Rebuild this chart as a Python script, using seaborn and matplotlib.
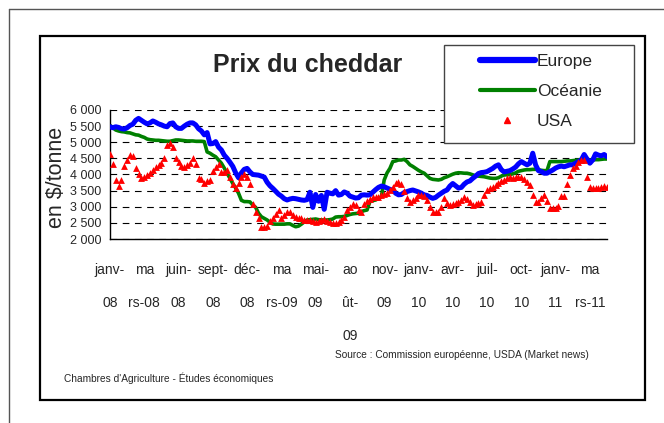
import numpy as np
import pandas as pd
import seaborn as sns
import matplotlib
matplotlib.use("Agg")
import matplotlib.pyplot as plt
from matplotlib.ticker import FuncFormatter
from matplotlib.patches import Rectangle
from matplotlib.lines import Line2D

# weekly prices, $/tonne (janv-08 -> avr-11)
europe = [5480, 5450, 5480, 5460, 5420, 5410, 5450, 5520, 5560, 5680,
          5740, 5680, 5620, 5570, 5600, 5660, 5620, 5570, 5540, 5500,
          5480, 5580, 5600, 5480, 5430, 5430, 5500, 5560, 5600, 5600,
          5540, 5420, 5350, 5230, 5300, 4950, 4960, 5020, 4850, 4760,
          4600, 4500, 4380, 4250, 4050, 3900, 4050, 4160, 4190, 4080,
          4000, 3990, 3980, 3950, 3920, 3760, 3650, 3570, 3480, 3390,
          3330, 3250, 3210, 3240, 3260, 3250, 3230, 3210, 3200, 3220,
          3450, 2980, 3380, 3170, 3350, 2920, 3450, 3420, 3400, 3500,
          3360, 3380, 3460, 3420, 3330, 3300, 3270, 3280, 3360, 3370,
          3360, 3370, 3450, 3530, 3600, 3640, 3620, 3580, 3540, 3510,
          3420, 3370, 3380, 3440, 3470, 3500, 3520, 3490, 3460, 3420,
          3370, 3350, 3300, 3260, 3290, 3360, 3420, 3480, 3520, 3640,
          3720, 3650, 3580, 3600, 3700, 3770, 3800, 3880, 3950, 4030,
          4060, 4070, 4090, 4140, 4190, 4260, 4300, 4150, 4080, 4100,
          4120, 4170, 4230, 4330, 4400, 4350, 4300, 4350, 4660, 4300,
          4120, 4090, 4040, 4040, 4090, 4140, 4200, 4240, 4260, 4240,
          4270, 4300, 4300, 4350, 4400, 4450, 4620, 4480, 4350, 4450,
          4640, 4600, 4580, 4620, 4550]

oceanie = [5520, 5450, 5380, 5350, 5330, 5320, 5300, 5290, 5260, 5230,
           5220, 5180, 5150, 5100, 5080, 5070, 5060, 5060, 5050, 5040,
           5030, 5030, 5050, 5070, 5070, 5060, 5050, 5040, 5040, 5040,
           5030, 5030, 5030, 5020, 4700, 4660, 4600, 4550, 4450, 4350,
           4200, 4040, 3880, 3720, 3580, 3420, 3200, 3160, 3160, 3150,
           3050, 2980, 2800, 2690, 2640, 2590, 2520, 2465, 2460, 2460,
           2460, 2460, 2470, 2470, 2420, 2380, 2400, 2460, 2530, 2590,
           2600, 2610, 2620, 2600, 2590, 2590, 2590, 2600, 2620, 2680,
           2690, 2690, 2700, 2730, 2760, 2780, 2790, 2800, 2850, 2880,
           2900, 3160, 3190, 3210, 3260, 3310, 3830, 4050, 4190, 4400,
           4420, 4450, 4450, 4470, 4400, 4300, 4250, 4190, 4130, 4080,
           4040, 3960, 3880, 3850, 3840, 3830, 3850, 3900, 3930, 3970,
           4010, 4040, 4055, 4050, 4040, 4040, 4020, 3990, 3960, 3950,
           3940, 3930, 3910, 3890, 3880, 3880, 3900, 3950, 3985, 3990,
           4000, 4020, 4050, 4100, 4120, 4140, 4150, 4150, 4160, 4160,
           4150, 4130, 4120, 4120, 4400, 4400, 4400, 4400, 4400, 4410,
           4420, 4420, 4430, 4440, 4450, 4450, 4450, 4450, 4450, 4450,
           4460, 4460, 4470, 4480, 4480]

usa = [4640, 4320, 3830, 3640, 3830, 4260, 4450, 4600, 4580, 4190,
       4020, 3880, 3930, 3980, 4050, 4140, 4240, 4300, 4350, 4500,
       4900, 4970, 4850, 4520, 4400, 4260, 4240, 4300, 4370, 4520,
       4320, 3880, 3870, 3750, 3800, 3830, 4120, 4220, 4320, 4090,
       4090, 4140, 3930, 3720, 3570, 3750, 3930, 4000, 3930, 3700,
       3100, 2850, 2640, 2380, 2380, 2400, 2570, 2640, 2770, 2900,
       2660, 2750, 2850, 2850, 2750, 2670, 2660, 2640, 2590, 2600,
       2590, 2560, 2540, 2560, 2590, 2610, 2570, 2540, 2490, 2500,
       2520, 2600, 2690, 2900, 3000, 3100, 3050, 2900, 2850, 3100,
       3180, 3230, 3310, 3300, 3290, 3360, 3400, 3440, 3520, 3620,
       3740, 3760, 3700, 3500, 3260, 3160, 3200, 3260, 3360, 3370,
       3330, 3200, 3000, 2850, 2840, 2850, 3000, 3260, 3110, 3050,
       3080, 3110, 3160, 3210, 3300, 3250, 3160, 3060, 3080, 3110,
       3160, 3360, 3520, 3570, 3620, 3670, 3740, 3800, 3840, 3890,
       3930, 3880, 3920, 3910, 3920, 3850, 3770, 3680, 3370, 3160,
       3160, 3260, 3360, 3170, 2950, 2950, 2950, 3010, 3330, 3330,
       3720, 3980, 4190, 4260, 4400, 4450, 4450, 3910, 3620, 3570,
       3570, 3570, 3600, 3640, 3620]

tick_labels = ["janv-\n08", "ma\nrs-08", "juin-\n08", "sept-\n08", "déc-\n08",
               "ma\nrs-09", "mai-\n09", "ao\nût-\n09", "nov-\n09", "janv-\n10",
               "avr-\n10", "juil-\n10", "oct-\n10", "janv-\n11", "ma\nrs-11"]

df = pd.DataFrame({"semaine": np.arange(len(europe)),
                   "Europe": europe, "Océanie": oceanie, "USA": usa})

sns.set_theme(style="white")
plt.rcParams["font.family"] = ["Liberation Sans", "DejaVu Sans"]

W, H = 664, 423
fig = plt.figure(figsize=(W / 100, H / 100), dpi=100)


def fx(px):
    return px / W


def fy(py):
    return 1 - py / H


# frames
fig.add_artist(Line2D([fx(9), fx(9)], [fy(9), 0], color="#555555", lw=1))
fig.add_artist(Line2D([fx(9), 1], [fy(9), fy(9)], color="#555555", lw=1))
fig.add_artist(Rectangle((fx(40), fy(400)), fx(645) - fx(40), fy(36) - fy(400),
                         fill=False, edgecolor="black", lw=1.6))

ax = fig.add_axes([fx(110), fy(239), fx(607) - fx(110), fy(110) - fy(239)])
ax.set_facecolor("none")

sns.lineplot(data=df, x="semaine", y="Europe", color="#0000FF", lw=3.6,
             ax=ax, label="Europe", zorder=3)
sns.lineplot(data=df, x="semaine", y="Océanie", color="#008000", lw=2.6,
             ax=ax, label="Océanie", zorder=2)
sns.scatterplot(data=df, x="semaine", y="USA", color="#FF0000", marker="^",
                s=24, linewidth=0, ax=ax, label="USA", zorder=4)

ax.set_xlim(0, len(europe) - 1)
ax.set_ylim(2000, 6000)
ax.set_yticks(range(2000, 6001, 500))
ax.yaxis.set_major_formatter(FuncFormatter(lambda v, p: f"{int(v):,}".replace(",", " ")))
ticks = list(range(0, len(europe), 6))
ax.set_xticks(ticks)
ax.set_xticklabels([tick_labels[k // 2] if k % 2 == 0 else "" for k in range(len(ticks))],
                   linespacing=2.75, fontsize=10)
ax.tick_params(axis="x", direction="out", length=4, width=1, color="black", pad=13)
ax.tick_params(axis="y", direction="out", length=4, width=1, color="black", pad=2,
               labelsize=9)
ax.set_xlabel("")
ax.set_ylabel("")
for s in ["top", "right"]:
    ax.spines[s].set_visible(False)
for s in ["left", "bottom"]:
    ax.spines[s].set_color("black")
    ax.spines[s].set_linewidth(1)
ax.yaxis.grid(True, color="black", lw=0.8, linestyle=(0, (6, 5)))
ax.set_axisbelow(True)

# legend
ax.get_legend().remove()
fig.add_artist(Rectangle((fx(444), fy(143)), fx(634) - fx(444), fy(45) - fy(143),
                         facecolor="white", edgecolor="#444444", lw=1, zorder=5))
handles = [Line2D([], [], color="#0000FF", lw=4.5, solid_capstyle="round"),
           Line2D([], [], color="#008000", lw=3, solid_capstyle="round"),
           Line2D([], [], color="#FF0000", marker="^", ls="none", markersize=5)]
leg = fig.legend(handles, ["Europe", "Océanie", "USA"], loc="upper left",
                 bbox_to_anchor=(fx(471), fy(45)), frameon=False, fontsize=12.5,
                 handlelength=3.2, handletextpad=0.1, labelspacing=0.85,
                 borderpad=0)
leg.set_zorder(6)

fig.text(fx(308), fy(65), "Prix du cheddar", ha="center", va="center",
         fontsize=18, fontweight="bold")
fig.text(fx(57), fy(177), r"en \$/tonne", ha="center", va="center",
         rotation=90, fontsize=15.5)
fig.text(fx(589), fy(355), "Source : Commission européenne, USDA (Market news)",
         ha="right", va="center", fontsize=7.3)
fig.text(fx(64), fy(378), "Chambres d'Agriculture - Études économiques",
         ha="left", va="center", fontsize=7.3)

fig.savefig("out.png", dpi=100)
